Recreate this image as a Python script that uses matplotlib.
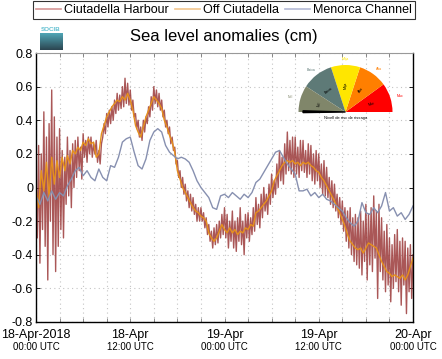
import numpy as np
import matplotlib
matplotlib.use('Agg')
import matplotlib.pyplot as plt
from matplotlib.lines import Line2D
from matplotlib.patches import Wedge, Polygon

plt.rcParams['font.family'] = ['Liberation Sans', 'DejaVu Sans']

# sea level anomalies, hours since 18-Apr-2018 00:00 UTC
# Ciutadella Harbour, every 10 min (one row per hour)
harbour = [
    0.05, -0.30, 0.25, -0.45, 0.20, -0.25,
    0.45, -0.35, 0.30, -0.55, 0.38, -0.20,
    0.58, -0.40, 0.42, -0.50, 0.30, -0.35,
    0.35, -0.25, 0.22, -0.30, 0.18, -0.10,
    0.30, -0.05, 0.22, -0.12, 0.26, 0.00,
    0.28, 0.06, 0.30, 0.10, 0.24, 0.05,
    0.32, 0.18, 0.28, 0.15, 0.30, 0.20,
    0.30, 0.18, 0.26, 0.20, 0.28, 0.15,
    0.22, 0.14, 0.26, 0.30, 0.38, 0.32,
    0.44, 0.36, 0.46, 0.38, 0.48, 0.40,
    0.52, 0.44, 0.56, 0.46, 0.55, 0.47,
    0.60, 0.48, 0.65, 0.50, 0.62, 0.49,
    0.58, 0.46, 0.52, 0.42, 0.44, 0.35,
    0.40, 0.30, 0.36, 0.28, 0.40, 0.33,
    0.42, 0.38, 0.48, 0.42, 0.54, 0.46,
    0.60, 0.50, 0.58, 0.48, 0.56, 0.46,
    0.52, 0.42, 0.46, 0.36, 0.40, 0.32,
    0.36, 0.26, 0.30, 0.22, 0.24, 0.14,
    0.16, 0.06, 0.10, 0.00, 0.06, -0.04,
    0.02, -0.08, -0.02, -0.12, -0.04, -0.14,
    -0.06, -0.16, -0.10, -0.20, -0.12, -0.20,
    -0.12, -0.20, -0.15, -0.24, -0.18, -0.28,
    -0.22, -0.32, -0.26, -0.36, -0.24, -0.34,
    -0.22, -0.33, -0.20, -0.30, -0.16, -0.28,
    -0.12, -0.30, -0.16, -0.36, -0.20, -0.32,
    -0.14, -0.36, -0.20, -0.38, -0.18, -0.32,
    -0.12, -0.34, -0.20, -0.40, -0.16, -0.30,
    -0.15, -0.32, -0.18, -0.28, -0.12, -0.26,
    -0.06, -0.22, -0.10, -0.24, -0.04, -0.18,
    0.00, -0.14, -0.04, -0.16, 0.02, -0.10,
    0.08, -0.06, 0.04, -0.04, 0.14, 0.00,
    0.22, 0.04, 0.18, 0.02, 0.26, 0.08,
    0.33, 0.10, 0.28, 0.08, 0.30, 0.06,
    0.30, 0.08, 0.24, 0.06, 0.28, 0.10,
    0.28, 0.09, 0.22, 0.06, 0.26, 0.08,
    0.25, 0.04, 0.20, 0.02, 0.22, 0.04,
    0.20, 0.00, 0.14, -0.04, 0.16, -0.05,
    0.12, -0.06, 0.06, -0.10, 0.04, -0.12,
    0.02, -0.14, -0.04, -0.18, -0.06, -0.22,
    -0.08, -0.26, -0.12, -0.32, -0.14, -0.36,
    -0.12, -0.40, -0.18, -0.44, -0.16, -0.46,
    -0.18, -0.48, -0.14, -0.52, -0.20, -0.44,
    -0.10, -0.55, -0.16, -0.46, -0.12, -0.50,
    -0.05, -0.42, -0.14, -0.66, -0.10, -0.50,
    -0.18, -0.55, -0.26, -0.62, -0.22, -0.58,
    -0.30, -0.68, -0.34, -0.60, -0.28, -0.56,
    -0.25, -0.62, -0.32, -0.70, -0.30, -0.58,
    -0.32, -0.75, -0.36, -0.62, -0.34, -0.66,
    -0.40,
]
# Off Ciutadella, every 20 min
offshore = [
    0.00, -0.12, 0.10,   -0.02, 0.15, -0.06,  0.18, 0.02, 0.16,    0.06, 0.18, 0.10,
    0.19, 0.14, 0.22,    0.20, 0.24, 0.22,    0.27, 0.25, 0.29,    0.26, 0.27, 0.18,
    0.20, 0.32, 0.37,    0.42, 0.45, 0.48,    0.50, 0.52, 0.51,    0.54, 0.52, 0.56,
    0.52, 0.46, 0.37,    0.33, 0.30, 0.36,    0.42, 0.46, 0.50,    0.54, 0.52, 0.50,
    0.47, 0.40, 0.36,    0.31, 0.27, 0.21,    0.10, 0.05, 0.00,    -0.03, -0.06, -0.09,
    -0.12, -0.14, -0.15, -0.17, -0.18, -0.20, -0.27, -0.30, -0.32, -0.30, -0.26, -0.22,
    -0.25, -0.27, -0.24, -0.27, -0.25, -0.28, -0.26, -0.27, -0.24, -0.25, -0.22, -0.23,
    -0.15, -0.14, -0.12, -0.10, -0.08, -0.05, -0.02, 0.04, 0.07,   0.10, 0.13, 0.15,
    0.16, 0.15, 0.16,    0.14, 0.15, 0.13,    0.15, 0.14, 0.15,    0.13, 0.12, 0.10,
    0.09, 0.06, 0.04,    0.01, -0.02, -0.05,  -0.08, -0.12, -0.15, -0.19, -0.23, -0.28,
    -0.32, -0.34, -0.36, -0.37, -0.36, -0.39, -0.36, -0.33, -0.34, -0.35, -0.36, -0.40,
    -0.44, -0.47, -0.50, -0.51, -0.53, -0.52, -0.53, -0.54, -0.52, -0.55, -0.52, -0.47,
    -0.42,
]
# Menorca Channel, every 30 min
channel = [
    -0.05, -0.10, -0.03, -0.08, -0.02, -0.07, -0.03, -0.05, 0.01, 0.05,
    0.10, 0.12, 0.07, 0.10, 0.06, 0.04, 0.11, 0.06, 0.04, 0.13,
    0.12, 0.18, 0.27, 0.29, 0.30, 0.21, 0.13, 0.11, 0.17, 0.28,
    0.33, 0.35, 0.33, 0.25, 0.21, 0.19, 0.17, 0.18, 0.17, 0.15,
    0.10, 0.04, 0.00, -0.03, -0.06, -0.12, -0.13, -0.05, -0.04, -0.06,
    -0.03, -0.05, -0.07, -0.04, -0.06, -0.03, 0.03, 0.05, 0.09, 0.13,
    0.17, 0.21, 0.22, 0.18, 0.14, 0.11, 0.08, -0.02, -0.02, -0.01,
    -0.05, -0.03, -0.06, -0.04, -0.07, -0.08, -0.10, -0.12, -0.14, -0.18,
    -0.21, -0.23, -0.20, -0.09, -0.15, -0.16, -0.12, -0.15, -0.11, -0.03,
    -0.14, -0.12, -0.17, -0.15, -0.19, -0.16, -0.11,
]
tick_hours = [0, 12, 24, 36, 48]
tick_top = ['18-Apr-2018', '18-Apr', '19-Apr', '19-Apr', '20-Apr']
tick_bottom = ['00:00 UTC', '12:00 UTC', '00:00 UTC', '12:00 UTC', '00:00 UTC']
yticks = [-0.8, -0.6, -0.4, -0.2, 0, 0.2, 0.4, 0.6, 0.8]
ylabels = ['-0.8', '-0.6', '-0.4', '-0.2', '0', '0.2', '0.4', '0.6', '0.8']

t_harb = np.arange(len(harbour)) / 6.0
t_off = np.arange(len(offshore)) / 3.0
t_chan = np.arange(len(channel)) * 0.5

W, H = 442, 359
fig = plt.figure(figsize=(W / 100, H / 100), dpi=100)
ax = fig.add_axes([36 / W, 1 - 322 / H, 377 / W, 269 / H])

ax.plot(t_harb, harbour, color='#9b3a3a', lw=1.0, alpha=0.85)
ax.plot(t_off, offshore, color='#e6901c', lw=1.0)
ax.plot(t_chan, channel, color='#8790b0', lw=1.0)

ax.set_xlim(0, 48)
ax.set_ylim(-0.8, 0.8)
ax.set_xticks(np.arange(0, 49, 3))
ax.set_xticklabels([])
ax.set_yticks(yticks)
ax.set_yticklabels(ylabels, fontsize=9)
ax.tick_params(axis='both', direction='in', length=3, width=0.6, top=True, right=True, pad=2)
ax.tick_params(axis='x', colors='#777777')
ax.grid(True, color='#c4c4c4', linestyle=(0, (1, 3)), lw=0.8)
ax.spines['top'].set_color('#999999')
ax.spines['top'].set_linestyle((0, (1, 1)))
for s in ['left', 'bottom', 'right']:
    ax.spines[s].set_linewidth(1.0)

xf = ax.get_xaxis_transform()
for h, a, b in zip(tick_hours, tick_top, tick_bottom):
    ax.text(h, -0.026, a, transform=xf, ha='center', va='top', fontsize=9)
    ax.text(h, -0.073, b, transform=xf, ha='center', va='top', fontsize=7)

fig.text(224 / W, 1 - 37 / H, 'Sea level anomalies (cm)', ha='center', va='center', fontsize=12)

handles = [Line2D([], [], color='#d69696', lw=1.2),
           Line2D([], [], color='#f2c68e', lw=1.2),
           Line2D([], [], color='#b4bad6', lw=1.2)]
leg = fig.legend(handles, ['Ciutadella Harbour', 'Off Ciutadella', 'Menorca Channel'],
                 loc='upper center', bbox_to_anchor=(224 / W, 1 - 1 / H), ncol=3,
                 fontsize=9, frameon=True, fancybox=False, handlelength=2.0,
                 handletextpad=0.25, columnspacing=0.5, borderpad=0.25,
                 borderaxespad=0)
leg.get_frame().set_edgecolor('black')
leg.get_frame().set_linewidth(0.8)

# logo
lax = fig.add_axes([40 / W, 1 - 50 / H, 23 / W, 17 / H])
grad = np.linspace(0, 1, 50).reshape(-1, 1)
lax.imshow(grad, aspect='auto', cmap=matplotlib.colors.LinearSegmentedColormap.from_list('l', ['#4fa6b6', '#2c4550']))
lax.axis('off')
fig.text(51 / W, 1 - 29.5 / H, 'SOCIB', ha='center', va='center', fontsize=4.5, color='#5fbfd0', weight='bold')

# gauge
gx = fig.add_axes([285 / W, 1 - 125 / H, 125 / W, 73 / H])
gx.set_xlim(285, 410)
gx.set_ylim(359 - 125, 359 - 52)
gx.axis('off')
cx, cy, r = 345.5, 359 - 112, 47
bounds = [0, 36, 72, 108, 147, 180]
cols = ['#ff0000', '#ff7f00', '#ffe600', '#5e7a77', '#80866a']
for a0, a1, c in zip(bounds[:-1], bounds[1:], cols):
    gx.add_patch(Wedge((cx, cy), r, a0, a1, color=c, lw=0))
outer = ['Max', 'Alta', 'Mitja', 'Baixa', 'Nul']
for a0, a1, c, lab in zip(bounds[:-1], bounds[1:], cols, outer):
    m = np.radians((a0 + a1) / 2)
    gx.text(cx + 57 * np.cos(m), cy + 53 * np.sin(m), lab, color=c, fontsize=2.5, ha='center', va='center')
    gx.text(cx + 27 * np.cos(m), cy + 27 * np.sin(m), lab, color='black', fontsize=2.5,
            ha='center', va='center', rotation=(a0 + a1) / 2 - 90 if (a0 + a1) / 2 > 90 else (a0 + a1) / 2)
gx.add_patch(Polygon([[cx, cy], [303, cy + 1.2], [303, cy - 0.6]], closed=True, color='black'))
gx.text(cx, cy - 6, 'Nivell de risc de rissaga', fontsize=3, ha='center', va='center')

fig.savefig('out.png', dpi=100)
